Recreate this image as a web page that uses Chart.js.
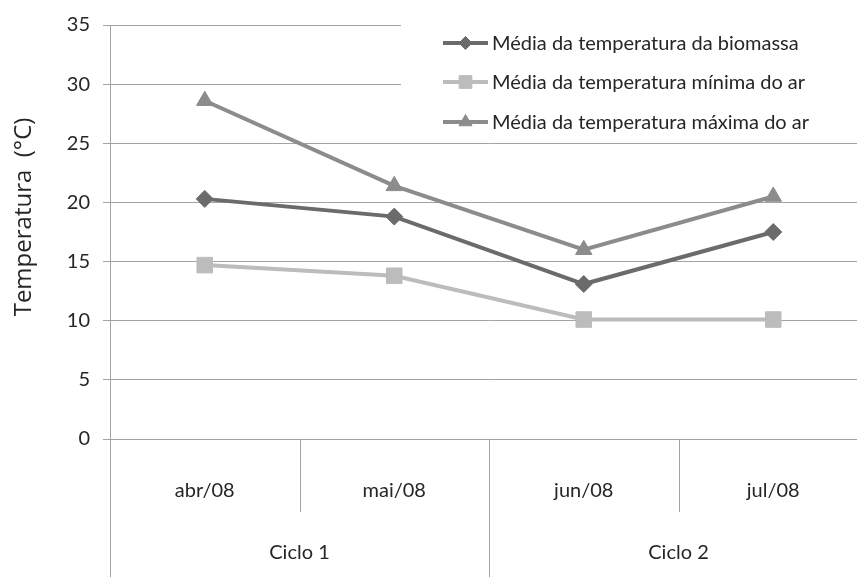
<!DOCTYPE html>
<html>
<head>
<meta charset="utf-8">
<script src="https://cdn.jsdelivr.net/npm/chart.js@4.4.1/dist/chart.umd.min.js"></script>
<style>
  html, body { margin: 0; padding: 0; background: #fff; overflow: hidden; width: 857px; height: 577px; }
  canvas { display: block; }
</style>
</head>
<body>
<canvas id="c" width="880" height="577"></canvas>
<script>
// Months on the category axis and the growing cycles that group them
const months = ['abr/08', 'mai/08', 'jun/08', 'jul/08'];
const cycles = ['Ciclo 1', 'Ciclo 2'];
const monthsPerCycle = [2, 2];

// Monthly mean temperatures (ºC)
const biomassa = [20.3, 18.8, 13.1, 17.5];
const minimaAr = [14.7, 13.8, 10.1, 10.1];
const maximaAr = [28.6, 21.4, 16.0, 20.5];

const seriesNames = [
  'Média da temperatura da biomassa',
  'Média da temperatura mínima do ar',
  'Média da temperatura máxima do ar'
];

// Value axis range
const yMin = 0, yMax = 35, yStep = 5;
const yTitle = 'Temperatura  (°C)';

const FONT = 'Lato';
const TEXT = '#262626';
const GRID = '#a3a3a3';

function crisp(v) { return Math.round(v) + 0.5; }

// Legend box drawn on top of the gridlines, in the upper right corner
const legendBox = {
  id: 'legendBox',
  beforeDatasetsDraw(chart) {
    const ctx = chart.ctx;
    ctx.save();
    ctx.fillStyle = '#fff';
    ctx.fillRect(401, 12, chart.width - 401, 124);
    const rows = [43, 82, 122];
    chart.data.datasets.forEach((ds, i) => {
      const y = rows[i];
      ctx.strokeStyle = ds.borderColor;
      ctx.lineWidth = 4;
      ctx.beginPath();
      ctx.moveTo(443, y);
      ctx.lineTo(488, y);
      ctx.stroke();
      ctx.fillStyle = ds.pointBackgroundColor;
      ctx.strokeStyle = ds.pointBackgroundColor;
      ctx.lineWidth = 1;
      Chart.helpers.drawPoint(ctx, {
        pointStyle: ds.pointStyle,
        radius: ds.legendRadius,
        borderWidth: 1,
        rotation: 0
      }, 465.5, y);
      ctx.fillStyle = TEXT;
      ctx.font = '20px ' + FONT;
      ctx.textBaseline = 'middle';
      ctx.textAlign = 'left';
      ctx.fillText(ds.label, 492, y + 1);
    });
    ctx.restore();
  }
};

// Vertical title of the value axis
const valueTitle = {
  id: 'valueTitle',
  afterDraw(chart) {
    const ctx = chart.ctx;
    ctx.save();
    ctx.translate(24, 217);
    ctx.rotate(-Math.PI / 2);
    ctx.fillStyle = TEXT;
    ctx.font = '24px "Open Sans"';
    ctx.textAlign = 'center';
    ctx.textBaseline = 'middle';
    ctx.fillText(yTitle, 0, 0);
    ctx.restore();
  }
};

// Two-level category axis: month separators and cycle groups
const groupedAxis = {
  id: 'groupedAxis',
  afterDraw(chart) {
    const ctx = chart.ctx;
    const xs = chart.scales.x, ys = chart.scales.y;
    const base = ys.bottom;
    const n = months.length;
    const edge = (i) => {
      if (i <= 0) return xs.left;
      if (i >= n) return xs.right;
      return (xs.getPixelForValue(i - 1) + xs.getPixelForValue(i)) / 2;
    };
    ctx.save();
    ctx.strokeStyle = GRID;
    ctx.lineWidth = 1;
    // short separators between months
    for (let i = 1; i < n; i++) {
      const x = crisp(edge(i));
      ctx.beginPath();
      ctx.moveTo(x, base);
      ctx.lineTo(x, base + 73);
      ctx.stroke();
    }
    // long separators and labels for cycles
    let start = 0;
    ctx.fillStyle = TEXT;
    ctx.font = '20px ' + FONT;
    ctx.textAlign = 'center';
    ctx.textBaseline = 'middle';
    cycles.forEach((name, g) => {
      const end = start + monthsPerCycle[g];
      const x0 = edge(start), x1 = edge(end);
      const x = crisp(x0);
      ctx.beginPath();
      ctx.moveTo(x, start === 0 ? ys.top : base);
      ctx.lineTo(x, chart.height);
      ctx.stroke();
      ctx.fillText(name, (x0 + x1) / 2, base + 114);
      start = end;
    });
    ctx.restore();
  }
};

new Chart(document.getElementById('c'), {
  type: 'line',
  data: {
    labels: months,
    datasets: [
      {
        label: seriesNames[0], data: biomassa,
        borderColor: '#6b6b6b', backgroundColor: '#6b6b6b',
        pointBackgroundColor: '#6b6b6b', pointBorderColor: '#6b6b6b',
        pointStyle: 'rectRot', pointRadius: 8.5, pointBorderWidth: 1, legendRadius: 6.5,
        borderWidth: 4, tension: 0
      },
      {
        label: seriesNames[1], data: minimaAr,
        borderColor: '#bcbcbc', backgroundColor: '#bcbcbc',
        pointBackgroundColor: '#bcbcbc', pointBorderColor: '#bcbcbc',
        pointStyle: 'rect', pointRadius: 11, pointBorderWidth: 1, legendRadius: 9,
        borderWidth: 4, tension: 0
      },
      {
        label: seriesNames[2], data: maximaAr,
        borderColor: '#8c8c8c', backgroundColor: '#8c8c8c',
        pointBackgroundColor: '#8c8c8c', pointBorderColor: '#8c8c8c',
        pointStyle: 'triangle', pointRadius: 9.5, pointBorderWidth: 1, legendRadius: 7.5,
        borderWidth: 4, tension: 0
      }
    ]
  },
  options: {
    responsive: false,
    animation: false,
    layout: { padding: { top: 24, right: 0, left: 0, bottom: 0 } },
    plugins: { legend: { display: false }, tooltip: { enabled: false } },
    scales: {
      x: {
        type: 'category',
        offset: true,
        grid: { display: false },
        border: { display: true, color: GRID, width: 1 },
        ticks: { color: TEXT, font: { family: FONT, size: 20 }, padding: 32, maxRotation: 0 },
        afterFit(scale) { scale.height = 138; }
      },
      y: {
        min: yMin, max: yMax,
        ticks: { stepSize: yStep, color: TEXT, font: { family: FONT, size: 20 }, padding: 13 },
        grid: { color: GRID, lineWidth: 1, tickLength: 7, drawTicks: true },
        border: { display: true, color: GRID, width: 1 },
        afterFit(scale) { scale.width = 110; }
      }
    }
  },
  plugins: [legendBox, valueTitle, groupedAxis]
});
</script>
</body>
</html>
